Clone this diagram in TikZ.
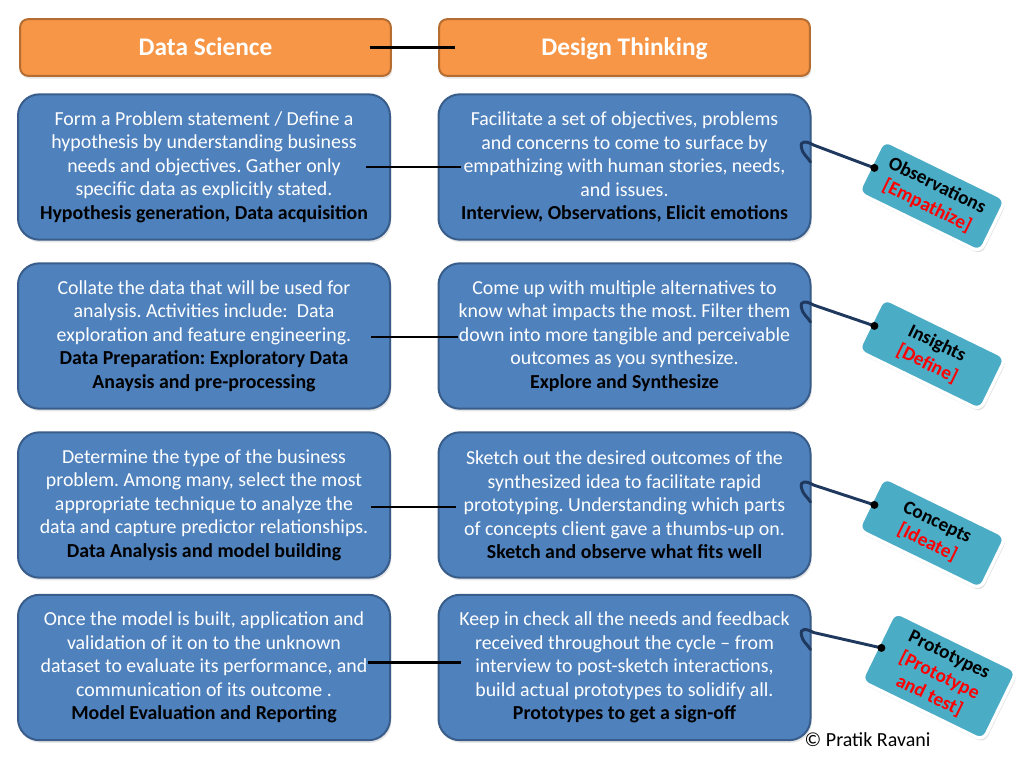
\documentclass[tikz,border=0pt]{standalone}
\usepackage{fontspec}
\setmainfont{Carlito}
\usetikzlibrary{calc,positioning,shadows}
\definecolor{BoxBlue}{RGB}{79,129,189}
\definecolor{BoxEdge}{RGB}{56,93,138}
\definecolor{HeadOrange}{RGB}{247,150,70}
\definecolor{HeadEdge}{RGB}{182,109,49}
\definecolor{TagTeal}{RGB}{75,172,198}
\definecolor{StringNavy}{RGB}{31,56,94}
\newcommand{\keyline}[1]{\textbf{\color{black}#1}}
\frenchspacing

\tikzset{
  headbox/.style={draw=HeadEdge,fill=HeadOrange,line width=1.5pt,rounded corners=6pt,
    minimum width=278pt,minimum height=42.5pt,text=white,
    text height=13pt,text depth=1pt,
    font=\bfseries\fontsize{19}{22}\selectfont,
    drop shadow={opacity=0.2,shadow xshift=1pt,shadow yshift=-2pt}},
  stepbox/.style={draw=BoxEdge,fill=BoxBlue,line width=1.5pt,rounded corners=16pt,
    minimum width=279pt,minimum height=109pt,text=white,align=center,
    font=\fontsize{14.9}{17.6}\selectfont,
    drop shadow={opacity=0.2,shadow xshift=1pt,shadow yshift=-2pt}},
  tagbox/.style={draw=white,fill=TagTeal,line width=2.5pt,rounded corners=6pt,
    rotate=-26,minimum width=102pt,minimum height=44pt,align=center,inner sep=2pt,
    font=\bfseries\fontsize{14.5}{17}\selectfont,
    drop shadow={opacity=0.25,shadow xshift=1pt,shadow yshift=-2pt}},
  link/.style={line width=2.2pt},
  tagstring/.style={StringNavy,line width=2.2pt,line cap=round}
}

\begin{document}
\begin{tikzpicture}[x=0.75pt,y=-0.75pt]
  \useasboundingbox (0,0) rectangle (1022,768);

  % headers
  \node[headbox] (ds) at (205.5,47.5) {Data Science};
  \node[headbox] (dt) at (624.5,47.5) {Design Thinking};
  \draw[link] ($(ds.east)+(-22,0)$) -- ($(dt.west)+(17,0)$);

  % data science side
  \node[stepbox] (l1) at (204,167) {Form a Problem statement / Define a\\
    hypothesis by understanding business\\needs and objectives. Gather only\\
    specific data as explicitly stated.\\
    \keyline{Hypothesis generation, Data acquisition}};
  \node[stepbox] (l2) at (204,336) {Collate the data that will be used for\\
    analysis. Activities include:\ \ Data\\exploration and feature engineering.\\
    \keyline{Data Preparation: Exploratory Data}\\\keyline{Anaysis and pre-processing}};
  \node[stepbox] (l3) at (204,505) {Determine the type of the business\\
    problem. Among many, select the most\\appropriate technique to analyze the\\
    data and capture predictor relationships.\\
    \keyline{Data Analysis and model building}};
  \node[stepbox] (l4) at (204,667.5) {Once the model is built, application and\\
    validation of it on to the unknown\\dataset to evaluate its performance, and\\
    communication of its outcome .\\
    \keyline{Model Evaluation and Reporting}};

  % design thinking side
  \node[stepbox] (r1) at (624.5,167) {Facilitate a set of objectives, problems\\
    and concerns to come to surface by\\empathizing with human stories, needs,\\
    and issues.\\
    \keyline{Interview, Observations, Elicit emotions}};
  \node[stepbox] (r2) at (624.5,336) {Come up with multiple alternatives to\\
    know what impacts the most. Filter them\\down into more tangible and perceivable\\
    outcomes as you synthesize.\\
    \keyline{Explore and Synthesize}};
  \node[stepbox] (r3) at (624.5,505) {Sketch out the desired outcomes of the\\
    synthesized idea to facilitate rapid\\prototyping. Understanding which parts\\
    of concepts client gave a thumbs-up on.\\
    \keyline{Sketch and observe what fits well}};
  \node[stepbox] (r4) at (624.5,667.5) {Keep in check all the needs and feedback\\
    received throughout the cycle -- from\\interview to post-sketch interactions,\\
    build actual prototypes to solidify all.\\
    \keyline{Prototypes to get a sign-off}};

  \draw[link] ($(l1.east)+(-25,0)$) -- ($(r1.west)+(23,0)$);
  \draw[link] ($(l2.east)+(-20,1)$) -- ($(r2.west)+(20,1)$);
  \draw[link] ($(l3.east)+(-20,2)$) -- ($(r3.west)+(18,2)$);
  \draw[link] ($(l4.east)+(-23,-5)$) -- ($(r4.west)+(23,-5)$);

  % tags
  \node[tagbox] (t1) at (932,196) {Observations\\\textcolor{red}{[Empathize]}};
  \node[tagbox] (t2) at (932,354) {Insights\\\textcolor{red}{[Define]}};
  \node[tagbox] (t3) at (932,533) {Concepts\\\textcolor{red}{[Ideate]}};
  \node[tagbox,minimum height=58pt] (t4) at (939,676)
    {Prototypes\\\textcolor{red}{[Prototype}\\\textcolor{red}{and test]}};

  \coordinate (h1) at ($(t1.west)!0.04!(t1.east)$);
  \coordinate (h2) at ($(t2.west)!0.04!(t2.east)$);
  \coordinate (h3) at ($(t3.west)!0.04!(t3.east)$);
  \coordinate (h4) at ($(t4.west)!0.04!(t4.east)$);
  \coordinate (k1) at ($(r1.east)+(2,-22)$);
  \coordinate (k2) at ($(r2.east)+(2,-31)$);
  \coordinate (k3) at ($(r3.east)+(2,-20)$);
  \coordinate (k4) at ($(r4.east)+(2,-35)$);

  \draw[tagstring] (h1) -- (k1) .. controls +(-7,-4) and +(-2,-8) .. ++(-12,3)
    .. controls +(1,6) and +(-3,-5) .. ++(9,14);
  \draw[tagstring] (h2) -- (k2) .. controls +(-7,-4) and +(-2,-8) .. ++(-12,3)
    .. controls +(1,6) and +(-3,-5) .. ++(9,14);
  \draw[tagstring] (h3) -- (k3) .. controls +(-7,-4) and +(-2,-8) .. ++(-12,3)
    .. controls +(1,6) and +(-3,-5) .. ++(9,14);
  \draw[tagstring] (h4) -- (k4) .. controls +(-7,-4) and +(-2,-8) .. ++(-12,3)
    .. controls +(1,6) and +(-3,-5) .. ++(9,14);
  \fill (h1) circle (3pt);
  \fill (h2) circle (3pt);
  \fill (h3) circle (3pt);
  \fill (h4) circle (3pt);

  \node[anchor=west,font=\fontsize{15}{18}\selectfont] (credit) at (800,740)
    {© Pratik Ravani};
\end{tikzpicture}
\end{document}
